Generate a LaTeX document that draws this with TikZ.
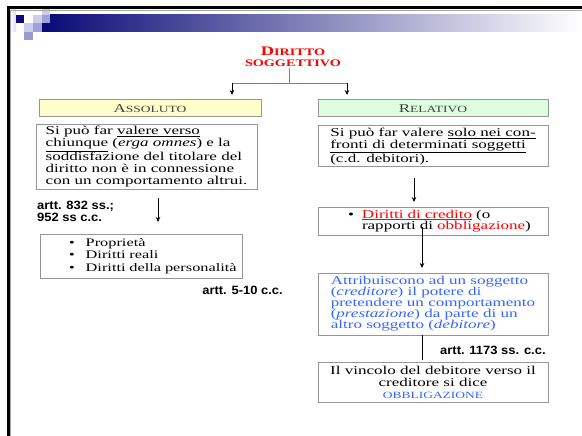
\documentclass[tikz,border=0pt]{standalone}
\usepackage{fontspec}
\setmainfont{Liberation Serif}[FakeStretch=1.42]
\newfontfamily\artfont{Liberation Sans}[FakeStretch=1.08]
\usepackage{xcolor}
\usepackage{tikz}
\usetikzlibrary{arrows.meta}
\definecolor{navy}{RGB}{10,10,120}
\definecolor{navgray}{RGB}{150,150,182}
\definecolor{lavA}{RGB}{204,204,236}
\definecolor{lavB}{RGB}{160,160,214}
\definecolor{lavC}{RGB}{153,153,204}
\definecolor{paleyellow}{RGB}{255,255,204}
\definecolor{palegreen}{RGB}{221,255,221}
\definecolor{linkblue}{RGB}{51,102,255}
\definecolor{boxgray}{RGB}{150,150,150}
\newcommand\smcap[4]{{\fontsize{#1}{#1}\selectfont #2}{\fontsize{#3}{#3}\selectfont #4}}
\tikzset{
  box/.style={draw=boxgray, line width=1pt, fill=white, inner sep=0pt, outer sep=0pt, font=\fontsize{12}{12}\selectfont},
  head/.style={box, text=black!75, minimum height=17},
  title/.style={text=red, font=\bfseries\fontsize{10}{11}\selectfont, align=center, inner sep=1pt},
  art/.style={font=\artfont\bfseries\fontsize{12}{12}\selectfont, inner sep=1pt, align=left},
  link/.style={draw=gray, line width=0.8pt},
  arr/.style={line width=1pt, -{Stealth[length=5pt,width=4.5pt]}},
}

\begin{document}
\begin{tikzpicture}[x=1pt,y=-1pt]
\useasboundingbox (0,0) rectangle (582,436);
% slide frame and header band
\shade[left color=navy, middle color=navgray, right color=white] (42,15) rectangle (582,32);
\shade[left color=white, right color=lavA!70] (10,10) rectangle (16,32);
\fill[navy] (16,15) rectangle (24.3,23.3);
\fill[lavA] (33.3,15) rectangle (41.7,23.3);
\fill[lavB] (41.7,15) rectangle (50,23.3);
\fill[lavA] (41.7,7) rectangle (50,15);
\fill[lavA] (24.3,23.3) rectangle (33.3,31.7);
\fill[lavB] (33.3,23.3) rectangle (41.7,31.7);
\fill[lavC] (24.3,31.7) rectangle (33.3,40);
\draw[gray!70, line width=1pt] (10.5,10) -- (10.5,436);
\draw[gray!70, line width=1pt] (10,10.5) -- (582,10.5);
\draw[line width=3pt] (7,7.5) -- (582,7.5);
\draw[line width=3pt] (8.5,6) -- (8.5,436);

\node[title] (titolo) at (293,57) {\smcap{13}{D}{10}{IRITTO}\\\smcap{10}{}{10}{SOGGETTIVO}};

\node[head, fill=paleyellow, minimum width=222] (assoluto) at (150,108.5) {\smcap{12}{A}{9.5}{SSOLUTO}};
\node[head, fill=palegreen, minimum width=230] (relativo) at (433,108.5) {\smcap{12}{R}{9.5}{ELATIVO}};

\coordinate (split) at (289,83);
\coordinate (lsplit) at (232,83);
\coordinate (rsplit) at (347,83);
\draw[link] (split |- titolo.south) -- (split);
\draw[link] (lsplit) -- (rsplit);
\draw[arr, shorten >=5pt] (lsplit) -- (lsplit |- assoluto.north);
\draw[arr, shorten >=5pt] (rsplit) -- (rsplit |- relativo.north);

% left column
\node[box, minimum width=221, minimum height=64, align=left] (erga) at (146.5,157)
  {Si può far \underline{valere verso}\\ \underline{chiunque} (\textit{erga omnes}) e la\\ soddisfazione del titolare del\\ diritto non è in connessione\\ con un comportamento altrui.};
\node[box, minimum width=202, minimum height=44, text width=202, align=left, font=\fontsize{11.5}{12.5}\selectfont] (reali) at (141,256)
  {\hspace*{29pt}\mbox{\textbullet\hspace{11pt}Proprietà}\\ \hspace*{29pt}\mbox{\textbullet\hspace{11pt}Diritti reali}\\ \hspace*{29pt}\mbox{\textbullet\hspace{11pt}Diritti della personalità}};
\node[art, anchor=west] (art832) at (36,211) {artt. 832 ss.;\\952 ss c.c.};
\node[art, anchor=east] (art5) at (284,290) {artt. 5-10 c.c.};
\draw[arr] ([xshift=11.5pt,yshift=-9pt]erga.south) -- ([xshift=17pt,yshift=12pt]reali.north);

% right column
\node[box, minimum width=230, minimum height=41, align=left] (solo) at (433,146.5)
  {Si può far valere \underline{solo nei con-}\\ \underline{fronti di determinati soggetti}\\ (c.d. debitori).};
\node[box, minimum width=230, minimum height=28, text width=230, align=left, font=\fontsize{12}{11.5}\selectfont] (credito) at (433,221)
  {\hspace*{30pt}\mbox{\textbullet\hspace{8pt}\textcolor{red}{\underline{Diritti di credito}} (o}\\ \hspace*{44pt}\mbox{rapporti di \textcolor{red}{obbligazione})}};
\node[box, text=linkblue, minimum width=230, minimum height=62, align=left, font=\fontsize{12}{11}\selectfont] (attrib) at (433,304)
  {Attribuiscono ad un soggetto\\ (\textit{creditore}) il potere di\\ pretendere un comportamento\\ (\textit{prestazione}) da parte di un\\ altro soggetto (\textit{debitore})};
\node[box, minimum width=230, minimum height=40, align=center] (vincolo) at (433,382)
  {Il vincolo del debitore verso il\\ creditore si dice\\ \textcolor{linkblue}{\fontsize{9.5}{12}\selectfont OBBLIGAZIONE}};
\node[art, anchor=west] (art1173) at (439,350.5) {artt. 1173 ss. c.c.};
\draw[arr] ([xshift=-19pt,yshift=-11pt]solo.south) -- ([xshift=-19pt,yshift=5pt]credito.north);
\draw[arr] ([xshift=-11pt,yshift=8pt]credito.south) -- ([xshift=-11pt,yshift=5pt]attrib.north);
\draw[line width=1pt] ([xshift=-11pt]attrib.south) -- ([xshift=-11pt,yshift=2pt]vincolo.north);
\end{tikzpicture}
\end{document}
